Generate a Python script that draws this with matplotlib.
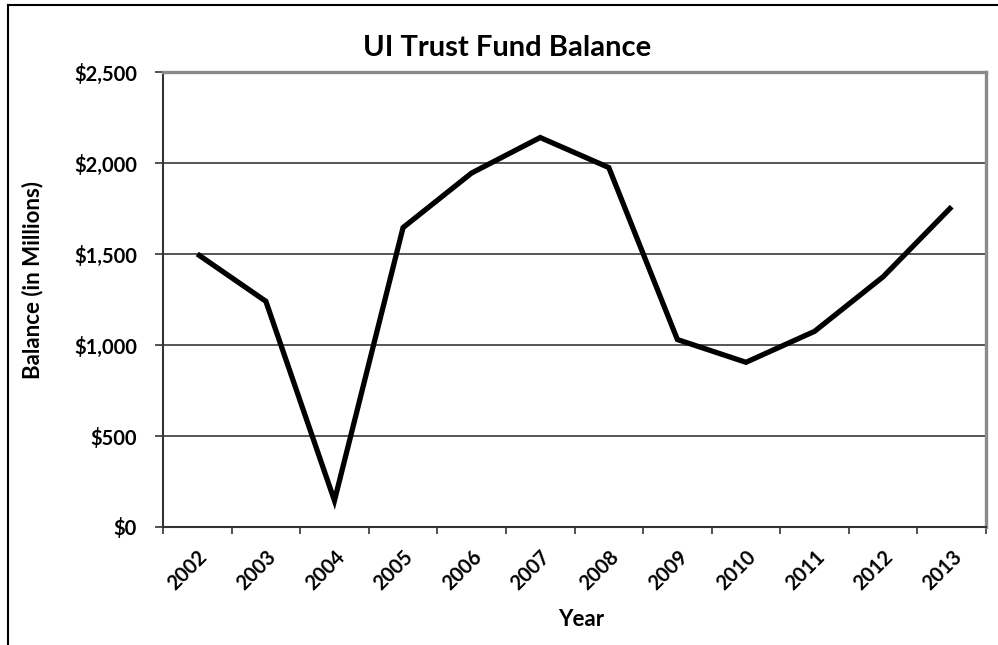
import matplotlib
matplotlib.use("Agg")
import matplotlib.pyplot as plt
from matplotlib.lines import Line2D
import numpy as np

years = ["2002", "2003", "2004", "2005", "2006", "2007", "2008",
         "2009", "2010", "2011", "2012", "2013"]
balance = [1500, 1240, 145, 1645, 1945, 2140, 1975,
           1030, 905, 1075, 1375, 1760]
y_ticks = [0, 500, 1000, 1500, 2000, 2500]
y_tick_labels = ["$0", "$500", "$1,000", "$1,500", "$2,000", "$2,500"]

plt.rcParams['font.family'] = ['Lato', 'DejaVu Sans']

W, H = 998, 645
fig = plt.figure(figsize=(W / 100, H / 100), dpi=100)
fig.patch.set_facecolor("white")

# outer chart frame (left and top edges visible)
fig.add_artist(Line2D([8 / W, 8 / W], [0, 1 - 5 / H], transform=fig.transFigure,
                      color="black", lw=1.5))
fig.add_artist(Line2D([8 / W, 1], [1 - 5 / H, 1 - 5 / H], transform=fig.transFigure,
                      color="black", lw=1.5))

left, right, top, bottom = 163 / W, 986 / W, 72 / H, 527 / H
ax = fig.add_axes([left, 1 - bottom, right - left, bottom - top])

x = np.arange(len(years))
ax.plot(x, balance, color="black", lw=3.8, solid_joinstyle="miter",
        solid_capstyle="butt", zorder=3)

ax.set_xlim(-0.5, len(years) - 0.5)
ax.set_ylim(0, 2500)

ax.set_yticks(y_ticks)
ax.set_yticklabels(y_tick_labels, fontsize=14.5, fontweight="bold")
ax.grid(axis="y", color="#555555", lw=1.4, zorder=1)

# tick marks on category boundaries, year labels at category centres
ax.set_xticks(np.arange(-0.5, len(years)), labels=[""] * (len(years) + 1))
ax.set_xticks(x, minor=True)
ax.set_xticklabels(years, minor=True, rotation=45, ha="right",
                   rotation_mode="anchor", fontsize=14.5, fontweight="bold")
ax.tick_params(axis="x", which="major", length=5, width=1.2, color="#333333",
               direction="out")
ax.tick_params(axis="x", which="minor", length=0, pad=14)
ax.tick_params(axis="y", length=5.8, width=1.2, color="#333333", pad=13,
               direction="out")

for side in ("top", "right"):
    ax.spines[side].set_color("#8a8a8a")
    ax.spines[side].set_linewidth(2.4)
for side in ("left", "bottom"):
    ax.spines[side].set_color("#333333")
    ax.spines[side].set_linewidth(1.5)
ax.spines["bottom"].set_zorder(4)

fig.text(581 / W, 1 - 619 / H, "Year", ha="center", va="center",
         fontsize=16, fontweight="bold")
fig.text(33 / W, 1 - 280 / H, "Balance (in Millions)", ha="center", va="center",
         rotation=90, fontsize=16, fontweight="bold")
fig.text(507 / W, 1 - 48 / H, "UI Trust Fund Balance", ha="center", va="center",
         fontsize=21, fontweight="bold")

fig.savefig("out.png", dpi=100, facecolor="white")
